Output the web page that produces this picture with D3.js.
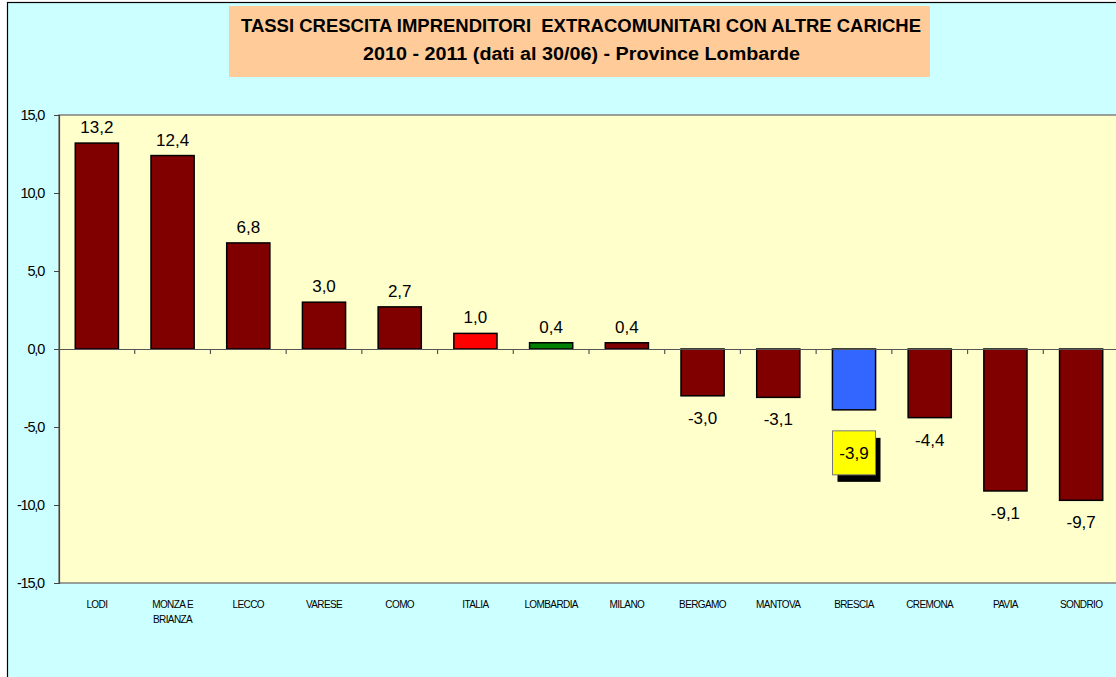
<!DOCTYPE html>
<html><head><meta charset="utf-8">
<script src="https://cdn.jsdelivr.net/npm/d3@7"></script>
<style>body{margin:0;background:#fff}svg{display:block}text{font-family:Arial,"Liberation Sans",sans-serif}</style>
</head><body>
<svg id="c" width="1116" height="677"></svg>
<script>
const categories = ["LODI","MONZA E|BRIANZA","LECCO","VARESE","COMO","ITALIA","LOMBARDIA","MILANO","BERGAMO","MANTOVA","BRESCIA","CREMONA","PAVIA","SONDRIO"];
const values = [13.2,12.4,6.8,3.0,2.7,1.0,0.4,0.4,-3.0,-3.1,-3.9,-4.4,-9.1,-9.7];
const barColors = ["#800000","#800000","#800000","#800000","#800000","#FF0000","#008000","#800000","#800000","#800000","#3366FF","#800000","#800000","#800000"];
const yTicks = [-15,-10,-5,0,5,10,15];
const titleLines = ["TASSI CRESCITA IMPRENDITORI  EXTRACOMUNITARI CON ALTRE CARICHE","2010 - 2011 (dati al 30/06) - Province Lombarde"];
const highlight = "BRESCIA";

const svg = d3.select("#c");
const W = 1116, H = 677;
svg.append("rect").attr("x",0).attr("y",0).attr("width",W).attr("height",H).attr("fill","#fff");
svg.append("rect").attr("x",7.5).attr("y",2.5).attr("width",W+10).attr("height",H+10).attr("fill","#CCFFFF").attr("stroke","#000").attr("stroke-width",1.2);

const L = 59, R = 1119, T = 115, B = 583;
const x = d3.scaleBand().domain(categories).range([L,R]).paddingInner(0.43).paddingOuter(0.215);
const xb = d3.scaleBand().domain(categories).range([L,R]);
const y = d3.scaleLinear().domain([-15,15]).range([B,T]);
const fmt = v => d3.format(".1f")(v).replace(".",",").replace("\u2212","-");

svg.append("rect").attr("x",L).attr("y",T).attr("width",R-L).attr("height",B-T).attr("fill","#FFFFCC").attr("stroke","#808080").attr("stroke-width",1.5);

// y axis
const ya = svg.append("g").attr("transform",`translate(${L},0)`)
  .call(d3.axisLeft(y).tickValues(yTicks).tickSize(5).tickPadding(10).tickFormat(fmt));
ya.select(".domain").attr("stroke","#444").attr("stroke-width",1.2);
ya.selectAll(".tick line").attr("stroke","#444");
ya.selectAll("text").attr("font-size",14.5).attr("letter-spacing","-1.2px").attr("fill","#000");

// bars
svg.append("g").selectAll("rect").data(categories).join("rect")
  .attr("x",d=>x(d)).attr("width",x.bandwidth())
  .attr("y",(d,i)=>y(Math.max(0,values[i])))
  .attr("height",(d,i)=>Math.abs(y(values[i])-y(0)))
  .attr("fill",(d,i)=>barColors[i]).attr("stroke","#000").attr("stroke-width",1.5);

// zero axis
const xa = svg.append("g").attr("transform",`translate(0,${y(0)})`)
  .call(d3.axisBottom(xb).tickSize(0).tickFormat(""));
xa.select(".domain").attr("stroke","#555").attr("stroke-width",1.2);
xa.selectAll(".tick").remove();
svg.append("g").selectAll("line").data(categories.slice(1)).join("line")
  .attr("x1",d=>xb(d)).attr("x2",d=>xb(d)).attr("y1",y(0)).attr("y2",y(0)+5)
  .attr("stroke","#555").attr("stroke-width",1.2);

// category labels
const cl = svg.append("g").selectAll("text").data(categories).join("text")
  .attr("x",d=>xb(d)+xb.bandwidth()/2).attr("y",608)
  .attr("text-anchor","middle").attr("font-size",10).attr("letter-spacing","-0.6px").attr("fill","#000");
cl.each(function(d){
  const parts = d.split("|");
  d3.select(this).selectAll("tspan").data(parts).join("tspan")
    .attr("x",xb(d)+xb.bandwidth()/2).attr("dy",(p,j)=>j?15:0).text(p=>p);
});

// value labels
categories.forEach((c,i)=>{
  const v = values[i];
  const cx = x(c)+x.bandwidth()/2;
  if (c===highlight){
    const ly = y(v)+43;
    const bw=43,bh=44;
    svg.append("rect").attr("x",cx-bw/2+5).attr("y",ly-bh/2+7).attr("width",bw).attr("height",bh).attr("fill","#000");
    svg.append("rect").attr("x",cx-bw/2).attr("y",ly-bh/2).attr("width",bw).attr("height",bh).attr("fill","#FFFF00").attr("stroke","#777").attr("stroke-width",1);
    svg.append("text").attr("x",cx).attr("y",ly+6).attr("text-anchor","middle").attr("font-size",17).text(fmt(v));
  } else {
    const ly = v>=0 ? y(v)-10 : y(v)+28;
    svg.append("text").attr("x",cx).attr("y",ly).attr("text-anchor","middle").attr("font-size",17).attr("fill","#000").text(fmt(v));
  }
});

// title
svg.append("rect").attr("x",229).attr("y",6).attr("width",701).attr("height",71).attr("fill","#FFCC99");
const tStart = [241,363], tLen = [680,437], tBase = [32,60];
svg.append("g").selectAll("text").data(titleLines).join("text")
  .attr("x",(d,i)=>tStart[i]).attr("y",(d,i)=>tBase[i])
  .attr("font-size",18).attr("font-weight","bold")
  .attr("textLength",(d,i)=>tLen[i]).attr("lengthAdjust","spacingAndGlyphs")
  .style("white-space","pre").text(d=>d);
</script>
</body></html>
